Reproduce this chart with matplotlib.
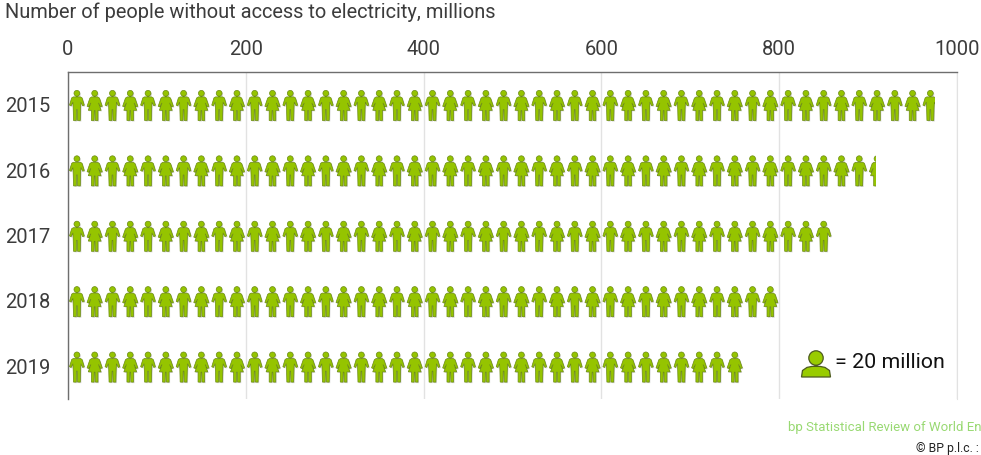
import numpy as np
import matplotlib
matplotlib.use("Agg")
import matplotlib.pyplot as plt
from matplotlib.path import Path
from matplotlib.patches import PathPatch
from matplotlib.transforms import Affine2D, blended_transform_factory

years = ["2015", "2016", "2017", "2018", "2019"]
people = [975, 909, 860, 800, 760]
ticks = [0, 200, 400, 600, 800, 1000]
per_icon = 20

W, H = 981, 456
LEFT, RIGHT, TOP, BOTTOM = 68, 957, 73, 400
GREEN = "#95c400"
DARK = "#6b8a12"
plt.rcParams['font.family'] = ['Roboto', 'DejaVu Sans']

# icon outlines in pixels, centre of the figure at 0,0, y points down
man = Path.make_compound_path(
    Path.circle((0, -11.4), 2.9),
    Path([(-3.6, -7.8), (3.6, -7.8), (5.2, -6.8), (7.4, 0.4), (5.8, 1.2), (4, -2.6),
          (3.7, 3.8), (3.4, 15.8), (0.6, 15.8), (0.4, 4.8), (-0.4, 4.8), (-0.6, 15.8), (-3.4, 15.8),
          (-3.7, 3.8), (-4, -2.6), (-5.8, 1.2), (-7.4, 0.4), (-5.2, -6.8), (-3.6, -7.8)],
         closed=True))
woman = Path.make_compound_path(
    Path.circle((0, -11.4), 2.9),
    Path([(-3, -7.8), (3, -7.8), (4.8, -6.6), (7.6, 1.6), (6, 2.2), (3.8, -1.8),
          (6.4, 5.6), (3.3, 5.6), (3.3, 15.8), (0.6, 15.8), (0.4, 5.8), (-0.4, 5.8), (-0.6, 15.8),
          (-3.3, 15.8), (-3.3, 5.6), (-6.4, 5.6), (-3.8, -1.8), (-6, 2.2), (-7.6, 1.6),
          (-4.8, -6.6), (-3, -7.8)],
         closed=True))
bust = Path.make_compound_path(
    Path.circle((0, -12), 7.2),
    Path([(-14.5, 7), (-13.5, 0.5), (-9, -2.6), (-4, -3.6), (4, -3.6), (9, -2.6), (13.5, 0.5), (14.5, 7), (-14.5, 7)],
         closed=True))

fig = plt.figure(figsize=(W / 100, H / 100), dpi=100)
ax = fig.add_axes([LEFT / W, 1 - BOTTOM / H, (RIGHT - LEFT) / W, (BOTTOM - TOP) / H])
ax.set_xlim(0, 1000)
ax.set_ylim(len(years) - 0.5, -0.5)

ax.xaxis.tick_top()
ax.set_xticks(ticks)
ax.set_xticklabels([str(t) for t in ticks], fontsize=14.5, color="#3c3c3c")
ax.set_yticks(range(len(years)))
ax.set_yticklabels(years, fontsize=14.5, color="#3c3c3c", va="center")
ax.tick_params(length=0)
ax.tick_params(axis='x', pad=10)
for lab in ax.get_yticklabels():
    lab.set_ha("left")
    lab.set_transform(blended_transform_factory(fig.transFigure, ax.transData)
                      + Affine2D().translate(0, -1))
    lab.set_x(5 / W)
ax.grid(axis='x', color="#e2e2e2", lw=1)
ax.set_axisbelow(True)
ax.spines["bottom"].set_visible(False)
ax.spines["right"].set_color("#e2e2e2")
for side in ["top", "left"]:
    ax.spines[side].set_color("#6e6e6e")
    ax.spines[side].set_linewidth(1)

# pixels -> data units
sx = 1000 / (RIGHT - LEFT)
sy = len(years) / (BOTTOM - TOP)

# invisible bars give the length of each row, the icons get cut off by them
bars = ax.barh(range(len(years)), people, height=1, color="none", edgecolor="none")

for row, (value, bar) in enumerate(zip(people, bars)):
    n = int(np.ceil(value / per_icon))
    for i in range(n):
        xc = (i + 0.5) * per_icon
        yc = row
        icon = man if i % 2 == 0 else woman
        place = Affine2D().scale(sx, sy).translate(xc, yc) + ax.transData
        shadow = PathPatch(icon, transform=Affine2D().translate(1, 1).scale(sx, sy).translate(xc, yc) + ax.transData,
                           fc="#d4d4d4", ec="none", zorder=3)
        body = PathPatch(icon, transform=place, fc=GREEN, ec=DARK, lw=0.5, zorder=4)
        ax.add_patch(shadow)
        ax.add_patch(body)
        shadow.set_clip_path(bar)
        body.set_clip_path(bar)

# key
key_x = (816 - LEFT) * sx
key_y = (371 - TOP) * sy - 0.5
ax.add_patch(PathPatch(bust, transform=Affine2D().scale(sx, sy).translate(key_x, key_y) + ax.transData,
                       fc="#99cc00", ec="#4d5a20", lw=0.9, zorder=4))
fig.text(835 / W, 1 - 363 / H, "= 20 million", fontsize=15.4, color="#111111", va="center")

fig.text(5 / W, 1 - 12 / H, "Number of people without access to electricity, millions",
         fontsize=14.4, color="#3c3c3c", va="center")
fig.text(788 / W, 1 - 428 / H, "bp Statistical Review of World En", fontsize=9.5, color="#99d973", va="center")
fig.text(916 / W, 1 - 449 / H, "© BP p.l.c. :", fontsize=8.8, color="#222222", va="center")

fig.savefig("out.png", dpi=100)
